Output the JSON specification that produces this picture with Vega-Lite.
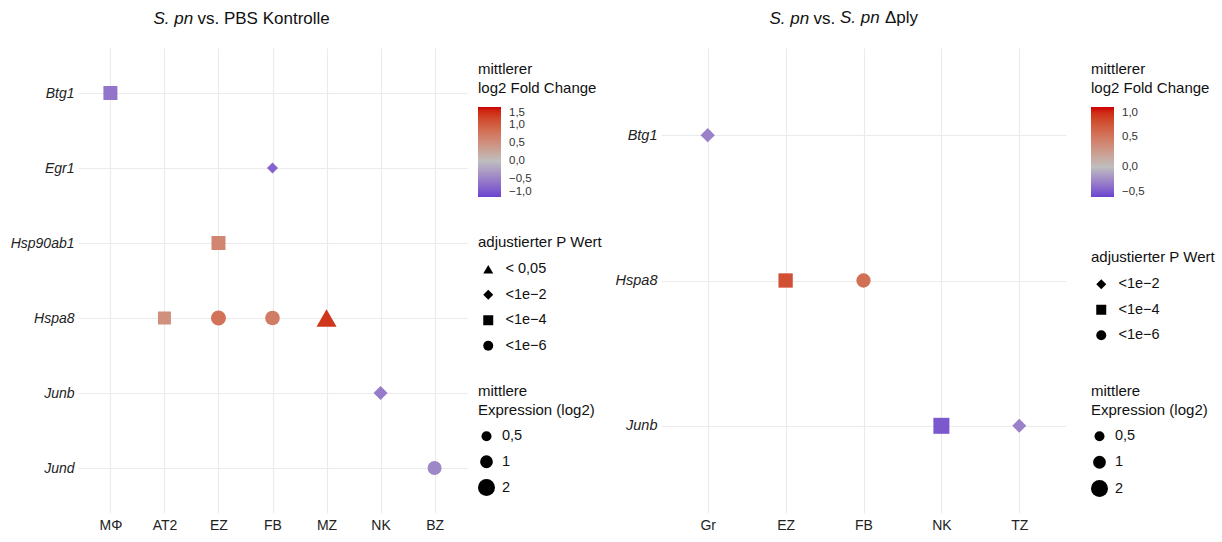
{
  "$schema": "https://vega.github.io/schema/vega-lite/v6.json",
  "background": "white",
  "padding": {"left": 10, "top": 9, "right": 5, "bottom": 5},
  "title": {"text": "Δply", "anchor": "start", "frame": "group", "dx": 807, "dy": 17, "offset": -14, "baseline": "alphabetic", "font": "Liberation Sans", "fontSize": 17, "fontWeight": "normal", "fontStyle": "normal", "color": "#111111"},
  "config": {
    "locale": {"number": {"decimal": ",", "thousands": ".", "grouping": [3], "currency": ["", " €"], "minus": "\u2212"}},
    "font": "Liberation Sans",
    "view": {"stroke": null},
    "axis": {"grid": true, "domain": false, "ticks": false, "gridColor": "#ebebeb", "gridWidth": 1.1, "labelFont": "Liberation Sans", "labelFontSize": 14, "labelColor": "#222222", "titleFont": "Liberation Sans", "titleFontSize": 17, "titleColor": "#111111", "titleFontWeight": "normal"},
    "legend": {"padding": 0, "titleFont": "Liberation Sans", "titleFontSize": 15, "titleFontWeight": "normal", "titleColor": "#111111", "labelFont": "Liberation Sans", "labelFontSize": 14.5, "labelColor": "#111111", "titleLineHeight": 19, "titlePadding": 11, "rowPadding": 10, "symbolStrokeWidth": 0, "symbolFillColor": "black", "gradientStrokeWidth": 0, "titleLimit": 300, "labelLimit": 200}
  },
  "datasets": {
    "links": [
      {"gen": "Btg1", "zelltyp": "MΦ", "lfc": -0.6, "padj": "<1e−4", "expr": 1.26},
      {"gen": "Egr1", "zelltyp": "FB", "lfc": -0.75, "padj": "<1e−2", "expr": 0.67},
      {"gen": "Hsp90ab1", "zelltyp": "EZ", "lfc": 0.6, "padj": "<1e−4", "expr": 1.26},
      {"gen": "Hspa8", "zelltyp": "AT2", "lfc": 0.5, "padj": "<1e−4", "expr": 1.05},
      {"gen": "Hspa8", "zelltyp": "EZ", "lfc": 0.8, "padj": "<1e−6", "expr": 1.5},
      {"gen": "Hspa8", "zelltyp": "FB", "lfc": 0.7, "padj": "<1e−6", "expr": 1.4},
      {"gen": "Hspa8", "zelltyp": "MZ", "lfc": 1.3, "padj": "< 0,05", "expr": 2.9},
      {"gen": "Junb", "zelltyp": "NK", "lfc": -0.55, "padj": "<1e−2", "expr": 1.26},
      {"gen": "Jund", "zelltyp": "BZ", "lfc": -0.45, "padj": "<1e−6", "expr": 1.26}
    ],
    "rechts": [
      {"gen": "Btg1", "zelltyp": "Gr", "lfc": -0.25, "padj": "<1e−2", "expr": 1.33},
      {"gen": "Hspa8", "zelltyp": "EZ", "lfc": 0.75, "padj": "<1e−4", "expr": 1.33},
      {"gen": "Hspa8", "zelltyp": "FB", "lfc": 0.55, "padj": "<1e−6", "expr": 1.33},
      {"gen": "Junb", "zelltyp": "NK", "lfc": -0.42, "padj": "<1e−4", "expr": 1.74},
      {"gen": "Junb", "zelltyp": "TZ", "lfc": -0.25, "padj": "<1e−2", "expr": 1.26}
    ]
  },
  "spacing": 13,
  "resolve": {
    "scale": {"x": "independent", "y": "independent", "color": "independent", "shape": "independent", "size": "independent"},
    "legend": {"color": "independent", "shape": "independent", "size": "independent"}
  },
  "hconcat": [
    {
      "width": 389,
      "height": 465,
      "data": {"name": "links"},
      "mark": {"type": "point", "filled": true, "opacity": 1, "strokeWidth": 0},
      "encoding": {
        "x": {"field": "zelltyp", "type": "nominal",
          "scale": {"type": "point", "padding": 0.6, "domain": ["MΦ", "AT2", "EZ", "FB", "MZ", "NK", "BZ"]},
          "axis": {"grid": true, "labelAngle": 0, "labelPadding": 5, "title": "vs. PBS Kontrolle", "titleX": 119, "titleY": -490, "titleAlign": "left", "titleBaseline": "alphabetic", "titleAngle": 0, "titleFontStyle": "normal"}},
        "y": {"field": "gen", "type": "nominal",
          "scale": {"type": "point", "padding": 0.6, "domain": ["Btg1", "Egr1", "Hsp90ab1", "Hspa8", "Junb", "Jund"]},
          "axis": {"grid": true, "labelFontStyle": "italic", "labelPadding": 4, "title": "S. pn", "titleX": 75, "titleY": -25, "titleAngle": 0, "titleAlign": "left", "titleBaseline": "alphabetic", "titleFontStyle": "italic"}},
        "color": {"field": "lfc", "type": "quantitative",
          "scale": {"domain": [-1, 0, 1.5], "range": ["#6a44d0", "#bebebe", "#cc0000"], "interpolate": "lab"},
          "legend": {"orient": "none", "legendX": 400, "legendY": 14, "direction": "vertical", "title": ["mittlerer", "log2 Fold Change"], "values": [-1, -0.5, 0, 0.5, 1, 1.5], "format": ".1f", "gradientLength": 90, "gradientThickness": 23, "labelFontSize": 11.5, "labelColor": "#333333", "labelOffset": 8}},
        "shape": {"field": "padj", "type": "nominal",
          "scale": {"domain": ["< 0,05", "<1e−2", "<1e−4", "<1e−6"], "range": ["triangle-up", "diamond", "square", "circle"]},
          "legend": {"orient": "none", "legendX": 400, "legendY": 187, "title": "adjustierter P Wert", "symbolSize": 100, "symbolOffset": 3, "labelOffset": 10, "titlePadding": 12, "rowPadding": 10.5,
            "encode": {"symbols": {"update": {"fill": {"value": "black"}, "stroke": {"value": "black"}, "strokeWidth": {"value": 0}, "opacity": {"value": 1}}}}}},
        "size": {"field": "expr", "type": "quantitative",
          "scale": {"domain": [0, 2.5], "range": [37, 352], "zero": false},
          "legend": {"orient": "none", "legendX": 400, "legendY": 336, "title": ["mittlere", "Expression (log2)"], "values": [0.5, 1, 2], "format": "~g", "symbolType": "circle", "labelOffset": 7, "rowPadding": 10.5,
            "encode": {"symbols": {"update": {"fill": {"value": "black"}, "stroke": {"value": "black"}, "strokeWidth": {"value": 0}, "opacity": {"value": 1}}}}}}
      }
    },
    {
      "width": 405,
      "height": 465,
      "title": {"text": "S. pn", "anchor": "start", "frame": "group", "dx": 179, "dy": 17, "offset": -14, "baseline": "alphabetic", "font": "Liberation Sans", "fontSize": 17, "fontWeight": "normal", "fontStyle": "italic", "color": "#111111"},
      "data": {"name": "rechts"},
      "mark": {"type": "point", "filled": true, "opacity": 1, "strokeWidth": 0},
      "encoding": {
        "x": {"field": "zelltyp", "type": "nominal",
          "scale": {"type": "point", "padding": 0.6, "domain": ["Gr", "EZ", "FB", "NK", "TZ"]},
          "axis": {"grid": true, "labelAngle": 0, "labelPadding": 5, "title": "vs.", "titleX": 152, "titleY": -490, "titleAlign": "left", "titleBaseline": "alphabetic", "titleAngle": 0, "titleFontStyle": "normal"}},
        "y": {"field": "gen", "type": "nominal",
          "scale": {"type": "point", "padding": 0.6, "domain": ["Btg1", "Hspa8", "Junb"]},
          "axis": {"grid": true, "labelFontStyle": "italic", "labelPadding": 4, "labelFontSize": 14.5, "title": "S. pn", "titleX": 108, "titleY": -25, "titleAngle": 0, "titleAlign": "left", "titleBaseline": "alphabetic", "titleFontStyle": "italic"}},
        "color": {"field": "lfc", "type": "quantitative",
          "scale": {"domain": [-0.5, 0, 1], "range": ["#6a44d0", "#bebebe", "#cc0000"], "interpolate": "lab"},
          "legend": {"orient": "none", "legendX": 430, "legendY": 14, "direction": "vertical", "title": ["mittlerer", "log2 Fold Change"], "values": [-0.5, 0, 0.5, 1], "format": ".1f", "gradientLength": 90, "gradientThickness": 23, "labelFontSize": 11.5, "labelColor": "#333333", "labelOffset": 8}},
        "shape": {"field": "padj", "type": "nominal",
          "scale": {"domain": ["<1e−2", "<1e−4", "<1e−6"], "range": ["diamond", "square", "circle"]},
          "legend": {"orient": "none", "legendX": 430, "legendY": 202, "title": "adjustierter P Wert", "symbolSize": 100, "symbolOffset": 3, "labelOffset": 10, "titlePadding": 12, "rowPadding": 10.5,
            "encode": {"symbols": {"update": {"fill": {"value": "black"}, "stroke": {"value": "black"}, "strokeWidth": {"value": 0}, "opacity": {"value": 1}}}}}},
        "size": {"field": "expr", "type": "quantitative",
          "scale": {"domain": [0, 2.5], "range": [37, 352], "zero": false},
          "legend": {"orient": "none", "legendX": 430, "legendY": 336, "title": ["mittlere", "Expression (log2)"], "values": [0.5, 1, 2], "format": "~g", "symbolType": "circle", "labelOffset": 7, "rowPadding": 11,
            "encode": {"symbols": {"update": {"fill": {"value": "black"}, "stroke": {"value": "black"}, "strokeWidth": {"value": 0}, "opacity": {"value": 1}}}}}}
      }
    }
  ]
}
